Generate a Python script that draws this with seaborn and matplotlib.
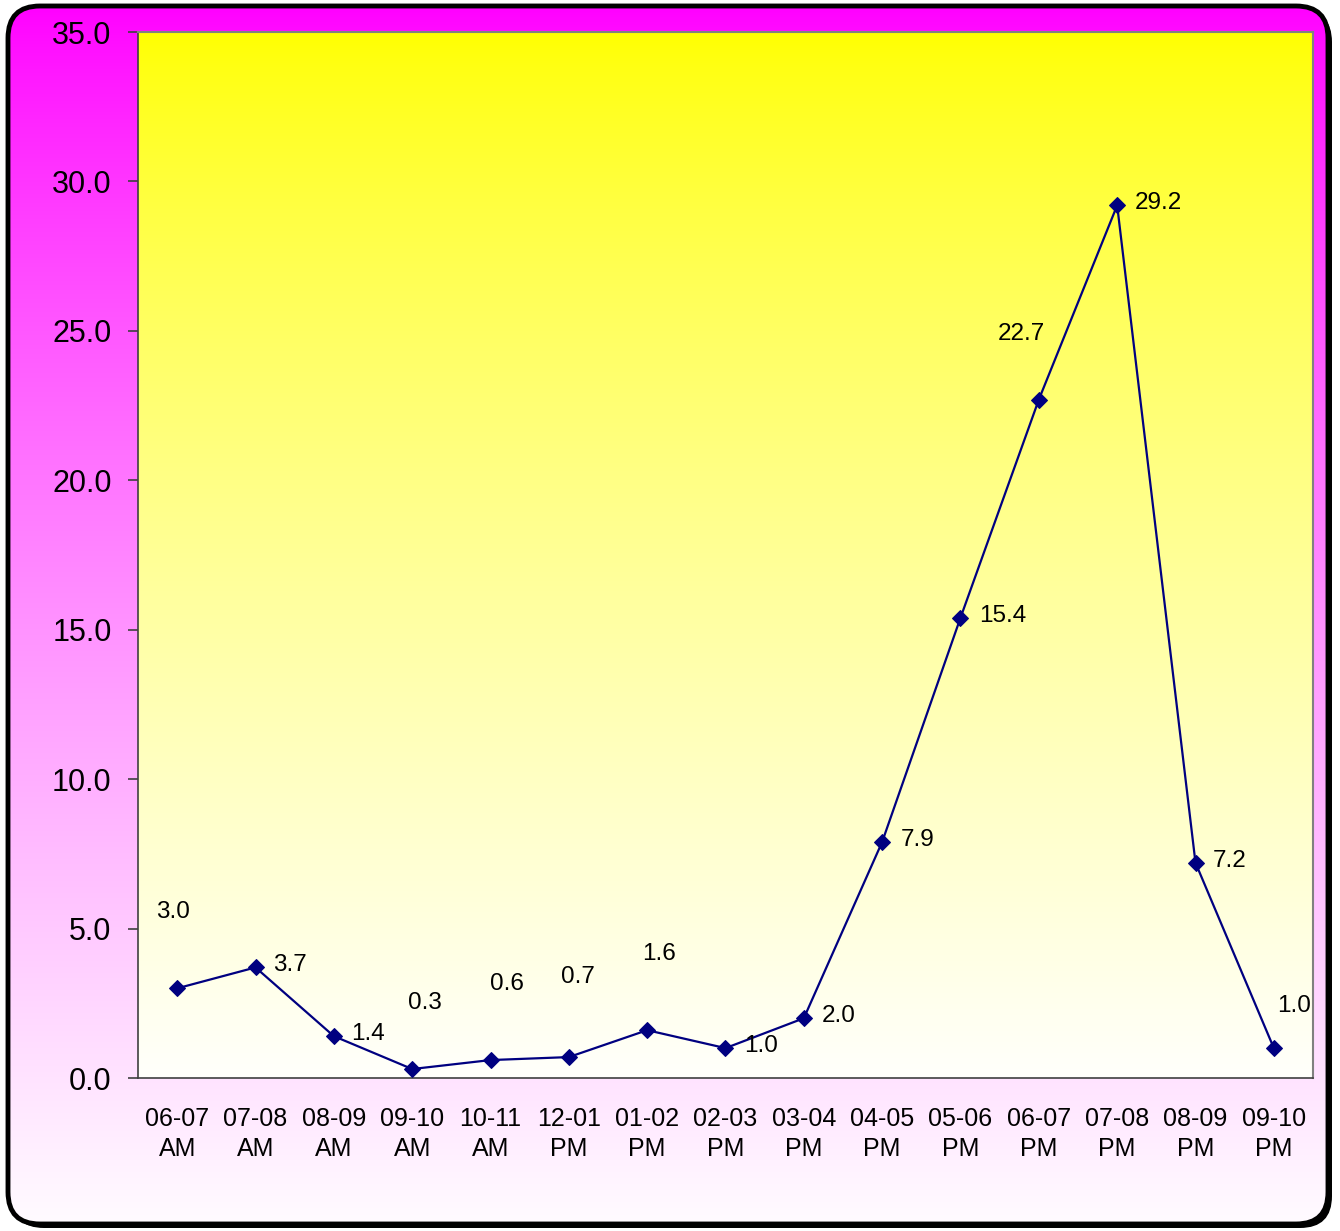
import matplotlib
matplotlib.use("Agg")
import matplotlib.pyplot as plt
import numpy as np
import seaborn as sns
from matplotlib.patches import FancyBboxPatch

# data
slots = ["06-07\nAM", "07-08\nAM", "08-09\nAM", "09-10\nAM", "10-11\nAM",
         "12-01\nPM", "01-02\nPM", "02-03\nPM", "03-04\nPM", "04-05\nPM",
         "05-06\nPM", "06-07\nPM", "07-08\nPM", "08-09\nPM", "09-10\nPM"]
values = [3.0, 3.7, 1.4, 0.3, 0.6, 0.7, 1.6, 1.0, 2.0, 7.9, 15.4, 22.7, 29.2, 7.2, 1.0]
y_ticks = [0, 5, 10, 15, 20, 25, 30, 35]

# label offsets in pixels (dx, dy), Excel-style placement
label_offsets = [(-4, 76), (34, 2), (34, 2), (13, 66), (16, 76), (9, 80), (12, 76),
                 (36, 2), (35, 2), (35, 2), (42, 2), (-17, 66), (41, 2), (34, 2), (20, 42)]

sns.set_theme(style="white")
plt.rcParams["font.family"] = ["Liberation Sans", "DejaVu Sans"]

W, H = 1340, 1231
fig = plt.figure(figsize=(W / 100, H / 100), dpi=100)
fig.patch.set_facecolor("white")

# outer rounded frame with gradient
bg = fig.add_axes([0, 0, 1, 1], zorder=0)
bg.set_xlim(0, W)
bg.set_ylim(H, 0)
bg.axis("off")
shadow = FancyBboxPatch((12, 10), 1320, 1218, boxstyle="round,pad=0,rounding_size=32",
                        fc="black", ec="black", lw=0)
bg.add_patch(shadow)
frame = FancyBboxPatch((8, 6), 1320, 1218, boxstyle="round,pad=0,rounding_size=32",
                       fc="none", ec="black", lw=3.5, zorder=3)
bg.add_patch(frame)
t = np.linspace(0, 1, 256) ** 0.8
grad = np.zeros((256, 2, 3))
grad[:, :, 0] = 1.0
grad[:, :, 1] = (t * 0.985)[:, None]
grad[:, :, 2] = 1.0
im = bg.imshow(grad, extent=[8, 1328, 1224, 6], aspect="auto", interpolation="bilinear", zorder=2)
im.set_clip_path(frame)

# plot area
ax = fig.add_axes([138 / W, (H - 1078) / H, 1175 / W, 1046 / H], zorder=1)
t2 = np.linspace(0, 1, 256) ** 0.75
pg = np.ones((256, 2, 3))
pg[:, :, 2] = (t2 * 0.985)[:, None]
ax.imshow(pg, extent=[0, 1, 0, 1], transform=ax.transAxes, aspect="auto",
          interpolation="bilinear", zorder=0)

x = np.arange(len(values))
sns.lineplot(x=x, y=values, ax=ax, color="#000080", lw=1.6, marker="D",
             markersize=8, markeredgecolor="#000080", zorder=3)

for xi, v, (dx, dy) in zip(x, values, label_offsets):
    ax.annotate(f"{v:.1f}", (xi, v), xytext=(dx, dy), textcoords="offset pixels",
                ha="center", va="center", fontsize=17.5, color="black")

ax.set_xlim(-0.5, len(values) - 0.5)
ax.set_ylim(0, 35)
ax.set_yticks(y_ticks)
ax.set_yticklabels([f"{v:.1f}" for v in y_ticks])
ax.set_xticks(x)
ax.set_xticklabels(slots, fontsize=18, linespacing=1.3)
ax.set_xticks(np.arange(-0.5, len(values)), minor=True)
ax.tick_params(axis="x", which="major", length=0, pad=21, labelcolor="black")
ax.tick_params(axis="x", which="minor", length=7, width=1.2, color="#404040", direction="out")
ax.tick_params(axis="y", length=7, width=1.2, color="#404040", direction="out",
               labelsize=22, pad=12, left=True, labelcolor="black")
for side in ["top", "right"]:
    ax.spines[side].set_color("#808080")
    ax.spines[side].set_linewidth(1.5)
for side in ["left", "bottom"]:
    ax.spines[side].set_color("#404040")
    ax.spines[side].set_linewidth(1.2)
ax.set_xlabel("")
ax.set_ylabel("")

fig.savefig("out.png", dpi=100)
